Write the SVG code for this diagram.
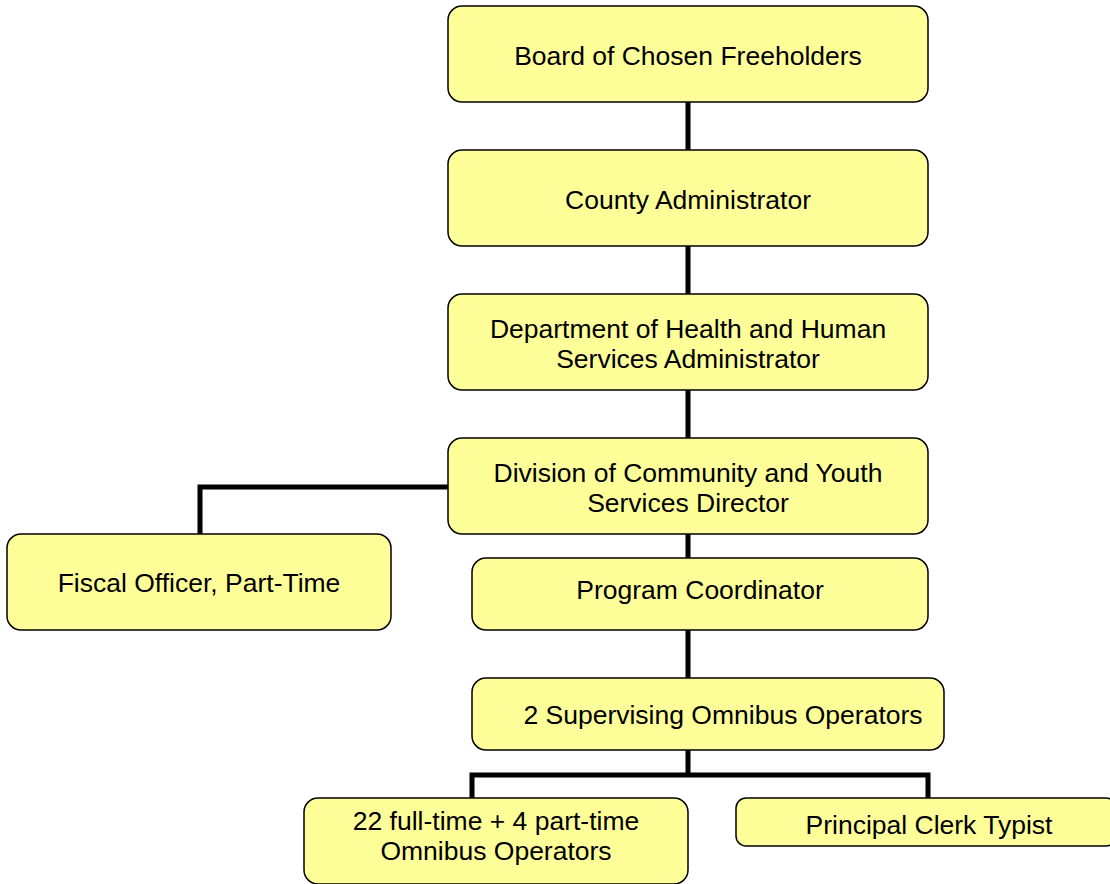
<svg xmlns="http://www.w3.org/2000/svg" width="1110" height="884" viewBox="0 0 1110 884">
<style>
.box{fill:#FFFF99;stroke:#000;stroke-width:1.5}
.t{font-family:"Liberation Sans",Arial,sans-serif;font-size:26.5px;fill:#000;text-anchor:middle}
.c{fill:none;stroke:#000;stroke-width:5}
</style>
<rect width="1110" height="884" fill="#fff"/>
<g id="connectors">
<line class="c" x1="688" y1="102" x2="688" y2="150"/>
<line class="c" x1="688" y1="246" x2="688" y2="294"/>
<line class="c" x1="688" y1="390" x2="688" y2="438"/>
<line class="c" x1="688" y1="534" x2="688" y2="558"/>
<line class="c" x1="688" y1="630" x2="688" y2="678"/>
<line class="c" x1="688" y1="750" x2="688" y2="775"/>
<polyline class="c" points="448,487 200,487 200,534"/>
<polyline class="c" points="472,798 472,775 928,775 928,798"/>
</g>
<g id="board"><rect class="box" x="448" y="6" width="480" height="96" rx="14"/><text class="t" x="688" y="64.5">Board of Chosen Freeholders</text></g>
<g id="county"><rect class="box" x="448" y="150" width="480" height="96" rx="14"/><text class="t" x="688" y="208.5">County Administrator</text></g>
<g id="dhhs"><rect class="box" x="448" y="294" width="480" height="96" rx="14"/><text class="t" x="688" y="337.5">Department of Health and Human</text><text class="t" x="688" y="367.5">Services Administrator</text></g>
<g id="division"><rect class="box" x="448" y="438" width="480" height="96" rx="14"/><text class="t" x="688" y="481.5">Division of Community and Youth</text><text class="t" x="688" y="511.5">Services Director</text></g>
<g id="fiscal"><rect class="box" x="7" y="534" width="384" height="96" rx="14"/><text class="t" x="199" y="591.5">Fiscal Officer, Part-Time</text></g>
<g id="program"><rect class="box" x="472" y="558" width="456" height="72" rx="14"/><text class="t" x="700" y="598.5">Program Coordinator</text></g>
<g id="supervising"><rect class="box" x="472" y="678" width="472" height="72" rx="14"/><text class="t" x="723" y="723.5">2 Supervising Omnibus Operators</text></g>
<g id="operators"><rect class="box" x="304" y="798" width="384" height="86" rx="14"/><text class="t" x="496" y="829.5">22 full-time + 4 part-time</text><text class="t" x="496" y="859.5">Omnibus Operators</text></g>
<g id="clerk"><rect class="box" x="736" y="798" width="380" height="48" rx="10"/><text class="t" x="929" y="833.5">Principal Clerk Typist</text></g>
</svg>
